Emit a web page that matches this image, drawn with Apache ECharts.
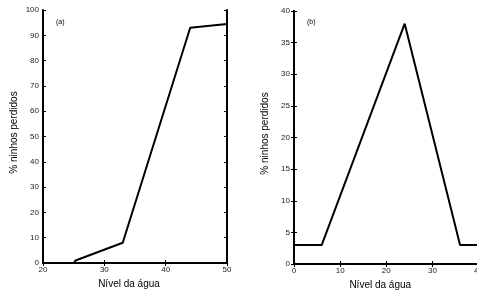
<!DOCTYPE html>
<html>
<head>
<meta charset="utf-8">
<script src="https://cdn.jsdelivr.net/npm/echarts@6/dist/echarts.min.js"></script>
<style>
  html, body { margin: 0; padding: 0; background: #fff; }
  #chart { width: 477px; height: 293px; }
</style>
</head>
<body>
<div id="chart"></div>
<script>
// painel (a)
const nivelA = [20, 25, 25.3, 33, 44, 50]
const perdidosA = [0, 0, 1, 8, 93, 94.5]
// painel (b)
const nivelB = [0, 6, 24, 36, 40]
const perdidosB = [3, 3, 38, 3, 3]

const xName = 'Nível da água'
const yName = '% ninhos perdidos'

const chart = echarts.init(document.getElementById('chart'))
const font = 'Liberation Sans, Arial, sans-serif'

const axisLine = { show: true, lineStyle: { color: '#000', width: 2 } }
const tick = { show: true, inside: true, length: 3, lineStyle: { color: '#000', width: 1 } }
const label = { color: '#222', fontSize: 8, fontFamily: font }

const bottomAxis = (i, min, max, interval) => ({
  type: 'value', gridIndex: i, position: 'bottom', min, max, interval,
  axisLine, axisTick: tick, splitLine: { show: false },
  axisLabel: { ...label, margin: 3 },
  name: xName, nameLocation: 'middle', nameGap: 16,
  nameTextStyle: { color: '#000', fontSize: 10, fontFamily: font, padding: [0, 12, 0, 0] }
})
const topAxis = (i, min, max, interval) => ({
  type: 'value', gridIndex: i, position: 'top', min, max, interval,
  axisLine, axisTick: tick, axisLabel: { show: false }, splitLine: { show: false }
})
const leftAxis = (i, max, interval) => ({
  type: 'value', gridIndex: i, position: 'left', min: 0, max, interval,
  axisLine, axisTick: tick, splitLine: { show: false },
  axisLabel: { ...label, margin: 4 },
  name: yName, nameLocation: 'middle', nameGap: 24,
  nameTextStyle: { color: '#000', fontSize: 10, fontFamily: font, padding: [0, 0, 0, 8] }
})
const rightAxis = (i, max, interval) => ({
  type: 'value', gridIndex: i, position: 'right', min: 0, max, interval,
  axisLine, axisTick: tick, axisLabel: { show: false }, splitLine: { show: false }
})

chart.setOption({
  animation: false,
  title: [
    { text: '(a)', left: 51, top: 14, textStyle: { fontSize: 7, fontWeight: 'normal', color: '#000', fontFamily: font } },
    { text: '(b)', left: 302, top: 14, textStyle: { fontSize: 7, fontWeight: 'normal', color: '#000', fontFamily: font } }
  ],
  grid: [
    { left: 43, top: 10, width: 184, height: 253, outerBoundsMode: 'none' },
    { left: 294, top: 11, width: 184.5, height: 253, outerBoundsMode: 'none' }
  ],
  xAxis: [
    bottomAxis(0, 20, 50, 10), topAxis(0, 20, 50, 10),
    bottomAxis(1, 0, 40, 10), topAxis(1, 0, 40, 10)
  ],
  yAxis: [
    leftAxis(0, 100, 10), rightAxis(0, 100, 10),
    leftAxis(1, 40, 5), rightAxis(1, 40, 5)
  ],
  series: [
    {
      type: 'line', xAxisIndex: 0, yAxisIndex: 0, symbol: 'none',
      lineStyle: { color: '#000', width: 2 },
      data: nivelA.map((x, i) => [x, perdidosA[i]])
    },
    {
      type: 'line', xAxisIndex: 2, yAxisIndex: 2, symbol: 'none',
      lineStyle: { color: '#000', width: 2 },
      data: nivelB.map((x, i) => [x, perdidosB[i]])
    }
  ]
})
</script>
</body>
</html>
